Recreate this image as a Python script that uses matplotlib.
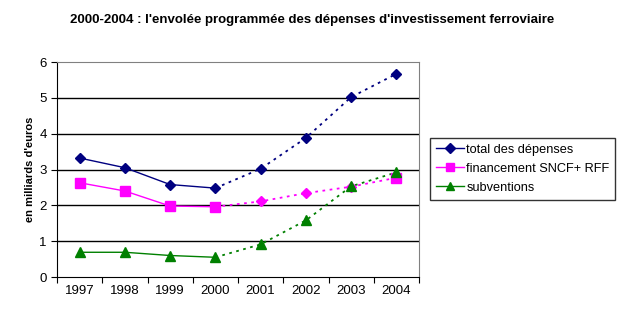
import matplotlib
matplotlib.use("Agg")
from matplotlib import pyplot as plt
from matplotlib.lines import Line2D
import numpy as np

years = ['1997', '1998', '1999', '2000', '2001', '2002', '2003', '2004']
total = [3.32, 3.05, 2.58, 2.48, 3.02, 3.88, 5.02, 5.67]
financement = [2.63, 2.40, 1.98, 1.96, 2.11, 2.34, 2.52, 2.77]
subventions = [0.69, 0.69, 0.60, 0.55, 0.91, 1.58, 2.53, 2.92]

plt.rcParams['font.family'] = ['Liberation Sans', 'DejaVu Sans']

fig = plt.figure(figsize=(6.25, 3.24), dpi=100)
ax = fig.add_axes([57/625, 1-277/324, 362/625, 215/324])

x = np.arange(len(years)) + 0.5
split = 3  # last measured year (2000), projections after

series = [
    (total, '#000080', 'D', 'D', 'total des dépenses', 5.5),
    (financement, '#ff00ff', 's', 'D', 'financement SNCF+ RFF', 6.5),
    (subventions, '#008000', '^', '^', 'subventions', 7),
]
for vals, col, m1, m2, lab, ms in series:
    v = np.array(vals)
    ax.plot(x[split:], v[split:], ls=(0, (1.5, 2.5)), color=col, lw=1.3, zorder=3)
    ax.plot(x[:split+1], v[:split+1], '-', color=col, lw=1, zorder=3)
    ax.plot(x[:split+1], v[:split+1], m1, color=col, ms=ms, ls='none', zorder=4)
    if col == '#ff00ff':
        ax.plot(x[split+1:-1], v[split+1:-1], 'D', color=col, ms=5.5, ls='none', zorder=4)
        ax.plot(x[-1:], v[-1:], 's', color=col, ms=ms, ls='none', zorder=4)
    else:
        ax.plot(x[split+1:], v[split+1:], m2, color=col, ms=ms, ls='none', zorder=4)

ax.set_xlim(0, len(years))
ax.set_ylim(0, 6)
ax.set_yticks(range(0, 7))
ax.set_xticks(np.arange(len(years) + 1), minor=False)
ax.set_xticklabels([])
ax.set_xticks(x, minor=True)
ax.set_xticklabels(years, minor=True)
ax.tick_params(axis='x', which='major', direction='out', length=4, color='black')
ax.tick_params(axis='x', which='minor', length=0, labelsize=9.5, pad=6)
ax.tick_params(axis='y', direction='out', length=4, labelsize=9.5)
for yv in range(1, 6):
    ax.axhline(yv, color='black', lw=1, zorder=1)
ax.spines['top'].set_color('#808080')
ax.spines['right'].set_color('#808080')
ax.spines['left'].set_color('black')
ax.spines['bottom'].set_color('black')

ax.set_ylabel("en milliards d'euros", fontsize=8, fontweight='bold', labelpad=3)

fig.text(312/625, 1-20/324, "2000-2004 : l'envolée programmée des dépenses d'investissement ferroviaire",
         ha='center', va='center', fontsize=9.5, fontweight='bold')

handles = [
    Line2D([], [], color='#000080', marker='D', ms=5, lw=1),
    Line2D([], [], color='#ff00ff', marker='s', ms=5.5, lw=1),
    Line2D([], [], color='#008000', marker='^', ms=6, lw=1),
]
leg = fig.legend(handles, [s[4] for s in series], loc='upper left',
                 bbox_to_anchor=(430/625, 1-138/324), fontsize=9.2,
                 frameon=True, fancybox=False, edgecolor='black',
                 handlelength=2.2, handletextpad=0.2, borderpad=0.45,
                 labelspacing=0.55, borderaxespad=0)
leg.get_frame().set_linewidth(1)

fig.savefig('out.png', dpi=100)
